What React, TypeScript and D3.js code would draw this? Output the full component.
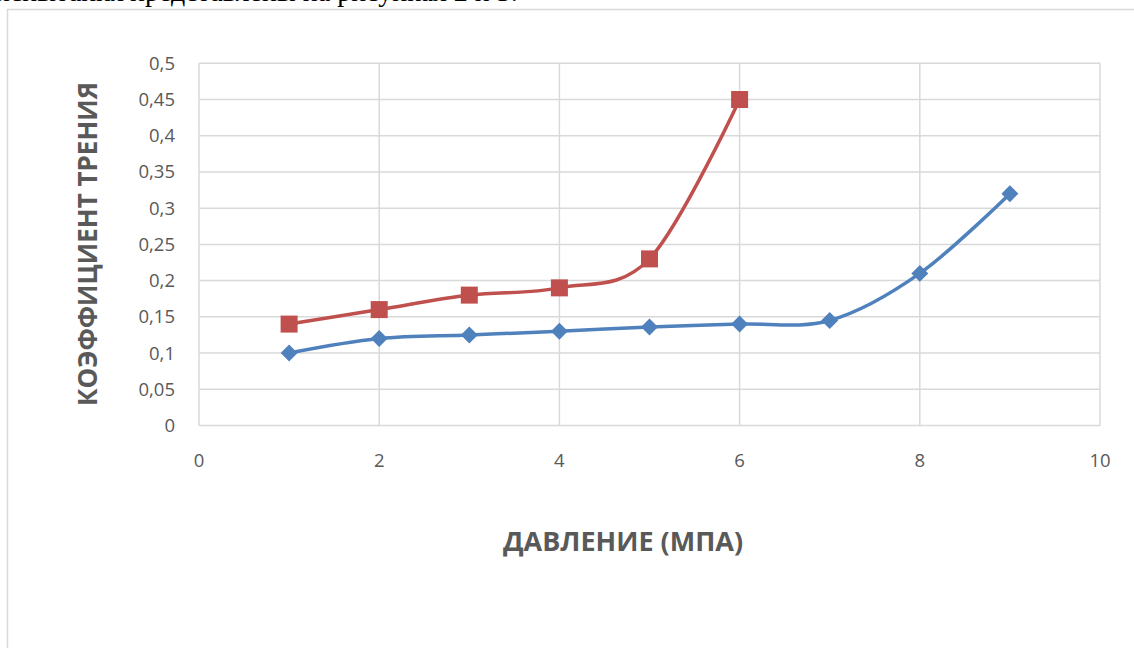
import React from "react";
import * as d3 from "d3";

const xTicks = [0, 2, 4, 6, 8, 10];
const yTicks = [0, 0.05, 0.1, 0.15, 0.2, 0.25, 0.3, 0.35, 0.4, 0.45, 0.5];
const yTickLabels = ["0", "0,05", "0,1", "0,15", "0,2", "0,25", "0,3", "0,35", "0,4", "0,45", "0,5"];

const blueX = [1, 2, 3, 4, 5, 6, 7, 8, 9];
const blueY = [0.1, 0.12, 0.125, 0.13, 0.136, 0.14, 0.145, 0.21, 0.32];
const redX = [1, 2, 3, 4, 5, 6];
const redY = [0.14, 0.16, 0.18, 0.19, 0.23, 0.45];

const xTitle = "ДАВЛЕНИЕ (МПА)";
const yTitle = "КОЭФФИЦИЕНТ ТРЕНИЯ";
const topTextLeft = "Результаты испытания";
const topTextRight = "представлены на рисунках 2 и 3.";

const W = 1134;
const H = 648;
const left = 199;
const right = 1100;
const top = 63.3;
const bottom = 425.5;

export default function App() {
  const x = d3.scaleLinear().domain([0, 10]).range([left, right]);
  const y = d3.scaleLinear().domain([0, 0.5]).range([bottom, top]);
  const line = d3
    .line<[number, number]>()
    .x((d) => x(d[0]))
    .y((d) => y(d[1]))
    .curve(d3.curveCardinal.tension(0));

  const blue: [number, number][] = blueX.map((v, i) => [v, blueY[i]]);
  const red: [number, number][] = redX.map((v, i) => [v, redY[i]]);
  const font = "'Open Sans', sans-serif";
  const grid = "#d9d9d9";
  const textCol = "#595959";

  return (
    <svg
      width={W}
      height={H}
      style={{ position: "absolute", left: 0, top: 0, background: "#fff" }}
    >
      <text x={124} y={1} fontFamily="'Liberation Serif', serif" fontSize={28} textAnchor="end" fill="#000">
        {topTextLeft}
      </text>
      <text x={130} y={1} fontFamily="'Liberation Serif', serif" fontSize={28} fill="#000">
        {topTextRight}
      </text>
      <rect x={7.5} y={9.5} width={1140} height={660} fill="none" stroke={grid} strokeWidth={1.5} />

      {yTicks.map((t, i) => (
        <g key={"y" + i}>
          <line x1={left} x2={right} y1={y(t)} y2={y(t)} stroke={grid} strokeWidth={1.5} />
          <text
            x={175}
            y={y(t)}
            dy="0.35em"
            textAnchor="end"
            fontFamily={font}
            fontSize={18.5}
            fill={textCol}
          >
            {yTickLabels[i]}
          </text>
        </g>
      ))}
      {xTicks.map((t, i) => (
        <g key={"x" + i}>
          <line x1={x(t)} x2={x(t)} y1={top} y2={bottom} stroke={grid} strokeWidth={1.5} />
          <text
            x={x(t)}
            y={467}
            textAnchor="middle"
            fontFamily={font}
            fontSize={18.5}
            fill={textCol}
          >
            {t}
          </text>
        </g>
      ))}

      <path d={line(blue) || ""} fill="none" stroke="#4F81BD" strokeWidth={3.5} />
      <path d={line(red) || ""} fill="none" stroke="#C0504D" strokeWidth={3.5} />

      {blue.map((d, i) => (
        <rect
          key={"b" + i}
          x={x(d[0]) - 6}
          y={y(d[1]) - 6}
          width={12}
          height={12}
          fill="#4F81BD"
          transform={`rotate(45 ${x(d[0])} ${y(d[1])})`}
        />
      ))}
      {red.map((d, i) => (
        <rect
          key={"r" + i}
          x={x(d[0]) - 8.5}
          y={y(d[1]) - 8.5}
          width={17}
          height={17}
          fill="#C0504D"
        />
      ))}

      <text
        transform={`translate(97, 244) rotate(-90)`}
        textAnchor="middle"
        fontFamily={font}
        fontSize={26}
        fontWeight="bold"
        fill={textCol}
      >
        {yTitle}
      </text>
      <text
        x={623}
        y={551}
        textAnchor="middle"
        fontFamily={font}
        fontSize={27}
        fontWeight="bold"
        fill={textCol}
      >
        {xTitle}
      </text>
    </svg>
  );
}
